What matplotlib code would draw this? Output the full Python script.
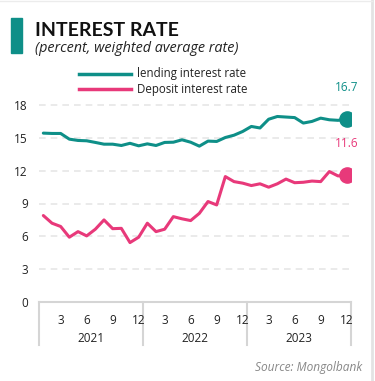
import numpy as np
import matplotlib.pyplot as plt
from matplotlib.patches import Rectangle
from matplotlib.lines import Line2D

years = ["2021", "2022", "2023"]
month_labels = ["3", "6", "9", "12"]

lending = [15.43, 15.40, 15.40, 14.88, 14.76, 14.73, 14.58, 14.42, 14.42, 14.30, 14.50, 14.27,
           14.45, 14.30, 14.58, 14.60, 14.82, 14.60, 14.24, 14.70, 14.67, 15.03, 15.24, 15.58,
           16.04, 15.90, 16.70, 16.95, 16.90, 16.85, 16.35, 16.50, 16.80, 16.65, 16.60, 16.70]
deposit = [7.90, 7.20, 6.90, 5.92, 6.43, 6.04, 6.65, 7.50, 6.70, 6.73, 5.43, 5.92,
           7.20, 6.43, 6.65, 7.80, 7.60, 7.44, 8.10, 9.18, 8.87, 11.46, 11.00, 10.86,
           10.64, 10.80, 10.49, 10.80, 11.23, 10.90, 10.94, 11.05, 11.00, 11.92, 11.52, 11.60]

teal = "#0e8f88"
pink = "#e8397a"
W, H = 375, 381

plt.rcParams['font.family'] = ['Open Sans', 'DejaVu Sans']

fig = plt.figure(figsize=(3.75, 3.81), dpi=100)

def fx(px):
    return px / W

def fy(py):
    return 1 - py / H

# header
fig.patches.append(Rectangle((fx(11), fy(53)), fx(11), (53 - 18) / H,
                             transform=fig.transFigure, color=teal))
fig.text(fx(35), fy(30), "INTEREST RATE", fontsize=14, fontweight='bold',
         family=['Lato', 'DejaVu Sans'], va='center', ha='left', color='#111111')
fig.text(fx(35), fy(48), "(percent, weighted average rate)", fontsize=10.4,
         style='italic', va='center', ha='left', color='#222222')

# frame lines
fig.lines.append(Line2D([fx(372), fx(372)], [0, 1], transform=fig.transFigure,
                        color='#e3e3e3', lw=2))
fig.lines.append(Line2D([0, fx(372)], [fy(1), fy(1)], transform=fig.transFigure,
                        color='#ececec', lw=1))

# legend
for i, (lab, c) in enumerate([("lending interest rate", teal), ("Deposit interest rate", pink)]):
    yy = fy(74 + 15 * i)
    fig.lines.append(Line2D([fx(79), fx(131)], [yy, yy], transform=fig.transFigure,
                            color=c, lw=2.5))
    fig.text(fx(137), yy, lab, fontsize=8.3, va='center', ha='left', color='#222222')

# axes
ax_l, ax_r = 39, 351
ax_b, ax_t = 302, 95
ax = fig.add_axes([fx(ax_l), fy(ax_b), (ax_r - ax_l) / W, (ax_b - ax_t) / H])

x = np.arange(len(lending))
ax.plot(x, lending, color=teal, lw=2.2, solid_capstyle='round', solid_joinstyle='round')
ax.plot(x, deposit, color=pink, lw=2.2, solid_capstyle='round', solid_joinstyle='round')
ax.scatter([x[-1]], [lending[-1]], s=120, color=teal, zorder=5)
ax.scatter([x[-1]], [deposit[-1]], s=120, color=pink, zorder=5)
ax.annotate(f"{lending[-1]:.1f}", (x[-1], lending[-1]), xytext=(0, 18),
            textcoords='offset points', ha='center', va='bottom', color=teal, fontsize=8.5)
ax.annotate(f"{deposit[-1]:.1f}", (x[-1], deposit[-1]), xytext=(0, 18),
            textcoords='offset points', ha='center', va='bottom', color=pink, fontsize=8.5)

ax.set_xlim(-0.5, len(lending) - 0.5)
ax.set_ylim(0, 18 * (ax_b - ax_t) / (ax_b - 105))
ax.set_yticks([0, 3, 6, 9, 12, 15, 18])
ax.tick_params(axis='y', length=0, labelsize=8.5, colors='#222222', pad=8)
for v in [3, 6, 9, 12, 15, 18]:
    ax.axhline(v, color='#e6e6e6', lw=1.2, ls=(0, (4, 3)), zorder=0)

ax.set_xticks([])
for s in ['top', 'right', 'left']:
    ax.spines[s].set_visible(False)
ax.spines['bottom'].set_color('#d5d5d5')
ax.spines['bottom'].set_linewidth(1.5)

# month and year labels
for yi, yr in enumerate(years):
    for mi, ml in enumerate(month_labels):
        pos = yi * 12 + (mi + 1) * 3 - 1
        ax.text(pos, -0.09, ml, transform=ax.get_xaxis_transform(), ha='center',
                va='center', fontsize=8.5, color='#222222')
    ax.text(yi * 12 + 5.5, -0.175, yr, transform=ax.get_xaxis_transform(), ha='center',
            va='center', fontsize=8.5, color='#222222')
for b in range(len(years) + 1):
    ax.plot([b * 12 - 0.5] * 2, [0, -0.21], transform=ax.get_xaxis_transform(),
            color='#d5d5d5', lw=1.5, clip_on=False)

fig.text(fx(362), fy(367), "Source: Mongolbank", fontsize=8.6, style='italic',
         ha='right', va='center', color='#888888')

fig.savefig("out.png", dpi=100, facecolor='white')
